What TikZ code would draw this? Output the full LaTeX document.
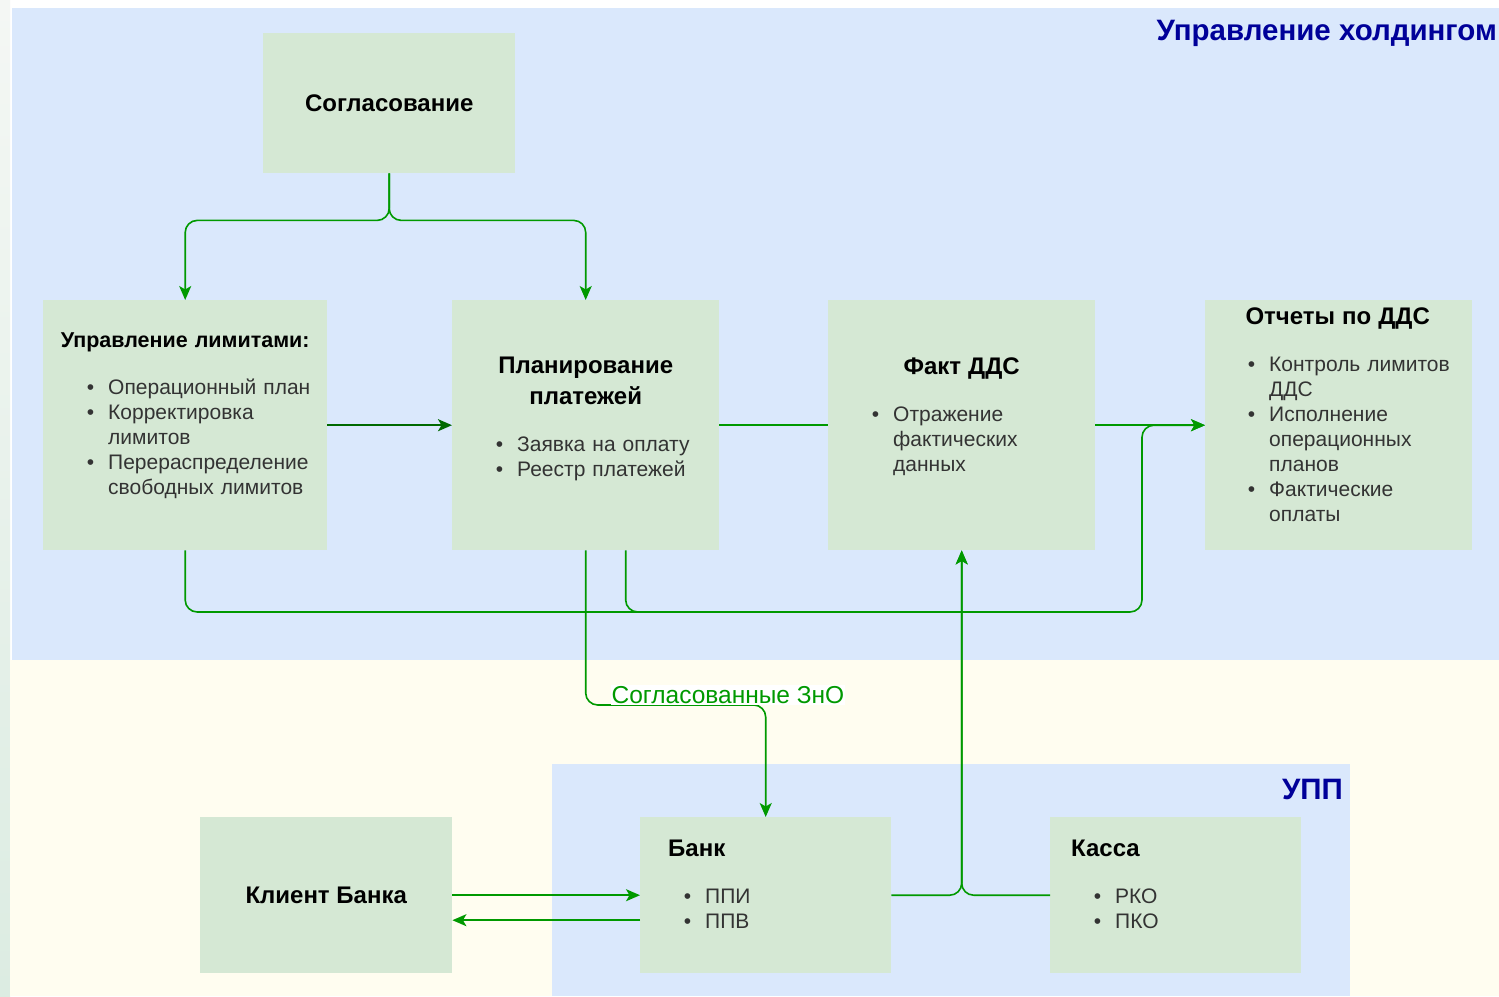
\documentclass[tikz,border=0pt]{standalone}
\usepackage{fontspec}
\setmainfont{Liberation Sans}
\usepackage{enumitem}
\usetikzlibrary{positioning}
\usetikzlibrary{arrows.meta,calc}
\definecolor{holdbg}{RGB}{218,232,252}
\definecolor{creambg}{RGB}{255,253,240}
\definecolor{boxgreen}{RGB}{213,232,212}
\definecolor{flowgreen}{RGB}{0,153,0}
\definecolor{flowdark}{RGB}{0,105,0}
\definecolor{txtgrey}{RGB}{51,51,51}
\definecolor{areablue}{RGB}{0,0,153}
\definecolor{stripA}{RGB}{244,247,244}
\definecolor{stripB}{RGB}{220,236,226}
\setlist[itemize]{nosep, leftmargin=51pt, labelwidth=37pt, labelsep=14pt, align=right, label=\textbullet}
\newcommand{\ctitle}[2][24]{{\centering\bfseries\color{black}\fontsize{#1}{31}\selectfont #2\par}\vspace{22pt}}
\newcommand{\ltitle}[2]{{\bfseries\color{black}\fontsize{24}{31}\selectfont\hspace*{#1}#2\par}\vspace{22pt}}
\tikzstyle{blk} = [fill=boxgreen, inner sep=0pt, anchor=north west]
\tikzstyle{txt} = [inner sep=0pt, align=left, text=txtgrey, font=\fontsize{21}{25}\selectfont]
\tikzstyle{area} = [inner sep=0pt, anchor=north east, text=areablue, font=\bfseries\fontsize{29.5}{34}\selectfont]
\tikzstyle{flow} = [draw=flowgreen, line width=1.6pt, rounded corners=12pt]
\tikzstyle{flowarr} = [flow, -{Stealth[length=14pt,width=12pt,inset=3.5pt]}]

\begin{document}
\begin{tikzpicture}[x=1pt, y=-1pt]
\useasboundingbox (0,0) rectangle (1499,996);

% Areas
\fill[white] (0,0) rectangle (1499,996);
\shade[top color=stripA, bottom color=stripB] (0,0) rectangle (10,996);
\fill[holdbg] (12,8) rectangle (1499,660);
\fill[creambg] (10,660) rectangle (1499,996);
\fill[holdbg] (552,764) rectangle (1350,996);
\node[area] (hold) at (1497,20) {Управление холдингом};
\node[area] (upp)  at (1343,779) {УПП};

% Define nodes
\node[blk, minimum width=252pt, minimum height=140pt, font=\bfseries\fontsize{24}{31}\selectfont] (sogl) at (263,33) {Согласование};
\node[blk, minimum width=284pt, minimum height=250pt]    (lim)    at (43,300)   {};
\node[blk, minimum width=267pt, minimum height=250pt]    (plan)   at (452,300)  {};
\node[blk, minimum width=267pt, minimum height=250pt]    (fact)   at (828,300)  {};
\node[blk, minimum width=267pt, minimum height=250pt]    (rep)    at (1205,300) {};
\node[blk, minimum width=252pt, minimum height=156pt, font=\bfseries\fontsize{24}{31}\selectfont] (client) at (200,817) {Клиент Банка};
\node[blk, minimum width=251pt, minimum height=156pt]    (bank)   at (640,817)  {};
\node[blk, minimum width=251pt, minimum height=156pt]    (cash)   at (1050,817) {};

% Box texts
\node[txt, text width=256pt, below right = 33pt and 14pt of lim.north west] (limtxt) {%
  \ctitle[21.5]{Управление лимитами:}
  \begin{itemize}
  \item Операционный план
  \item Корректировка\newline лимитов
  \item Перераспределение\newline свободных лимитов
  \end{itemize}};
\node[txt, text width=239pt, below right = 57pt and 14pt of plan.north west] (plantxt) {%
  \ctitle{Планирование\\платежей}
  \begin{itemize}
  \item Заявка на оплату
  \item Реестр платежей
  \end{itemize}};
\node[txt, text width=239pt, below right = 58pt and 14pt of fact.north west] (facttxt) {%
  \ctitle{Факт ДДС}
  \begin{itemize}
  \item Отражение\newline фактических\newline данных
  \end{itemize}};
\node[txt, text width=239pt, below right = 8pt and 13pt of rep.north west] (reptxt) {%
  \ctitle{Отчеты по ДДС}
  \begin{itemize}
  \item Контроль лимитов\newline ДДС
  \item Исполнение\newline операционных\newline планов
  \item Фактические\newline оплаты
  \end{itemize}};
\node[txt, text width=223pt, below right = 23pt and 14pt of bank.north west] (banktxt) {%
  \ltitle{14pt}{Банк}
  \begin{itemize}
  \item ППИ
  \item ППВ
  \end{itemize}};
\node[txt, text width=223pt, below right = 23pt and 14pt of cash.north west] (cashtxt) {%
  \ltitle{7pt}{Касса}
  \begin{itemize}
  \item РКО
  \item ПКО
  \end{itemize}};

\coordinate (bus) at (1142,612);

% Edges
\draw[flowarr] (sogl.south) -- ++(0,47) -| (lim.north);
\draw[flowarr] (sogl.south) -- ++(0,47) -| (plan.north);
\draw[flowarr, draw=flowdark, line width=2.2pt] (lim.east) -- (plan.west);
\draw[flow] (plan.east) -- (fact.west);
\draw[flowarr] (fact.east) -- (rep.west);
\draw[flow] ($(plan.south)+(40,0)$) |- ($(bus)+(-30,0)$);
\draw[flowarr] (lim.south) |- (bus) |- (rep.west);
\draw[flowarr] (plan.south) |- ($(bank.north)+(0,-112)$) -- (bank.north);
\node[fill=white, inner sep=1pt, text=flowgreen, font=\fontsize{24.5}{28}\selectfont] (zno) at (728,695) {Согласованные ЗнО};
\draw[flowarr] (bank.east) -| (fact.south);
\draw[flowarr] (cash.west) -| (fact.south);
\draw[flowarr] (client.east) -- (bank.west);
\draw[flowarr] ($(bank.west)+(0,25)$) -- ($(client.east)+(0,25)$);
\end{tikzpicture}
\end{document}
